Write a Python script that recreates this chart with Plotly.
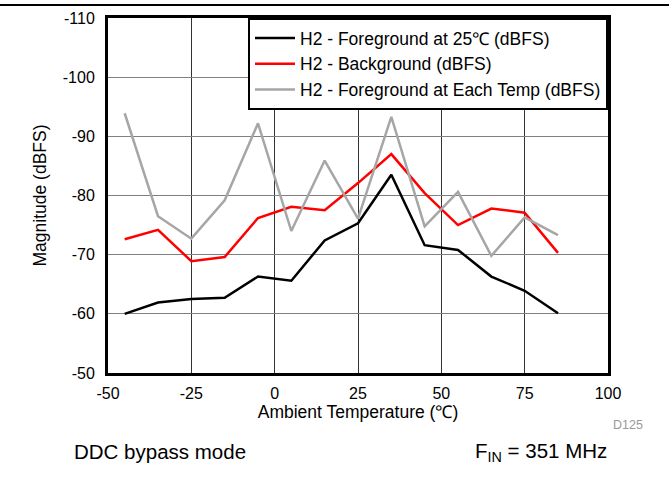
import plotly.graph_objects as go

temps = [-45, -35, -25, -15, -5, 5, 15, 25, 35, 45, 55, 65, 75, 85]
fg25 = [-60.0, -61.9, -62.5, -62.7, -66.3, -65.6, -72.4, -75.3, -83.5, -71.6, -70.8, -66.3, -63.9, -60.1]
bg = [-72.6, -74.2, -68.9, -69.6, -76.2, -78.1, -77.5, -82.1, -87.0, -80.4, -75.0, -77.8, -77.1, -70.3]
fgeach = [-93.9, -76.5, -72.7, -79.2, -92.2, -74.0, -85.9, -76.1, -93.3, -74.8, -80.6, -69.8, -76.3, -73.3]
names = ["H2 - Foreground at 25\u2103 (dBFS)", "H2 - Background (dBFS)", "H2 - Foreground at Each Temp (dBFS)"]
colors = ["#000000", "#ff0000", "#a6a6a6"]

x_ticks = [-50, -25, 0, 25, 50, 75, 100]
x_labels = ["-50", "-25", "0", "25", "50", "75", "100"]
y_ticks = [-110, -100, -90, -80, -70, -60, -50]
y_labels = ["-110", "-100", "-90", "-80", "-70", "-60", "-50"]

fig = go.Figure()
for ys, nm, c in zip([fg25, bg, fgeach], names, colors):
    fig.add_trace(go.Scatter(x=temps, y=ys, mode="lines", name=nm,
                             line=dict(color=c, width=2.5)))

FAM = "Liberation Sans, Arial, sans-serif"
fig.update_layout(
    width=669, height=479,
    margin=dict(l=108, r=61, t=18, b=106),
    paper_bgcolor="white", plot_bgcolor="white",
    font=dict(family=FAM, size=16, color="#000"),
    showlegend=True,
    legend=dict(x=1, xanchor="right", y=1, yanchor="top",
                bgcolor="white", bordercolor="#000", borderwidth=2,
                font=dict(size=17.5), tracegroupgap=0, itemwidth=40,
                traceorder="normal"),
    xaxis=dict(range=[-50, 100], tickvals=x_ticks, ticktext=x_labels, showgrid=True,
               gridcolor="#333333", gridwidth=1, zeroline=False,
               showline=True, linecolor="#000", linewidth=3, mirror=True,
               ticks="", tickfont=dict(size=16), ticklabelstandoff=4, automargin=False,
               title=dict(text="Ambient Temperature (\u2103)", font=dict(size=17.5), standoff=2)),
    yaxis=dict(range=[-50, -110], tickvals=y_ticks, ticktext=y_labels, showgrid=True,
               gridcolor="#808080", gridwidth=1, zeroline=False,
               showline=True, linecolor="#000", linewidth=3, mirror=True,
               ticks="", tickfont=dict(size=16), ticklabelstandoff=7, automargin=False,
               title=dict(text="Magnitude (dBFS)", font=dict(size=17.5), standoff=12)),
)

fig.add_shape(type="line", xref="paper", yref="paper", x0=-0.3, x1=1.3,
              y0=(479 - 5 - 106) / 355, y1=(479 - 5 - 106) / 355,
              line=dict(color="#000", width=2))

fig.add_annotation(text="D125", xref="paper", yref="paper", x=1.039, y=-0.146,
                   xanchor="center", yanchor="middle", showarrow=False,
                   font=dict(size=12.5, color="#999999"))
fig.add_annotation(text="DDC bypass mode", xref="paper", yref="paper", x=-0.072, y=-0.222,
                   xanchor="left", yanchor="middle", showarrow=False,
                   font=dict(size=20.5))
fig.add_annotation(text="F<sub>IN</sub> = 351 MHz", xref="paper", yref="paper", x=1.001, y=-0.222,
                   xanchor="right", yanchor="middle", showarrow=False,
                   font=dict(size=20.5))

fig.write_html("out.html", config={"displayModeBar": False},
               post_script="document.body.style.margin='0';document.body.style.padding='0';")
